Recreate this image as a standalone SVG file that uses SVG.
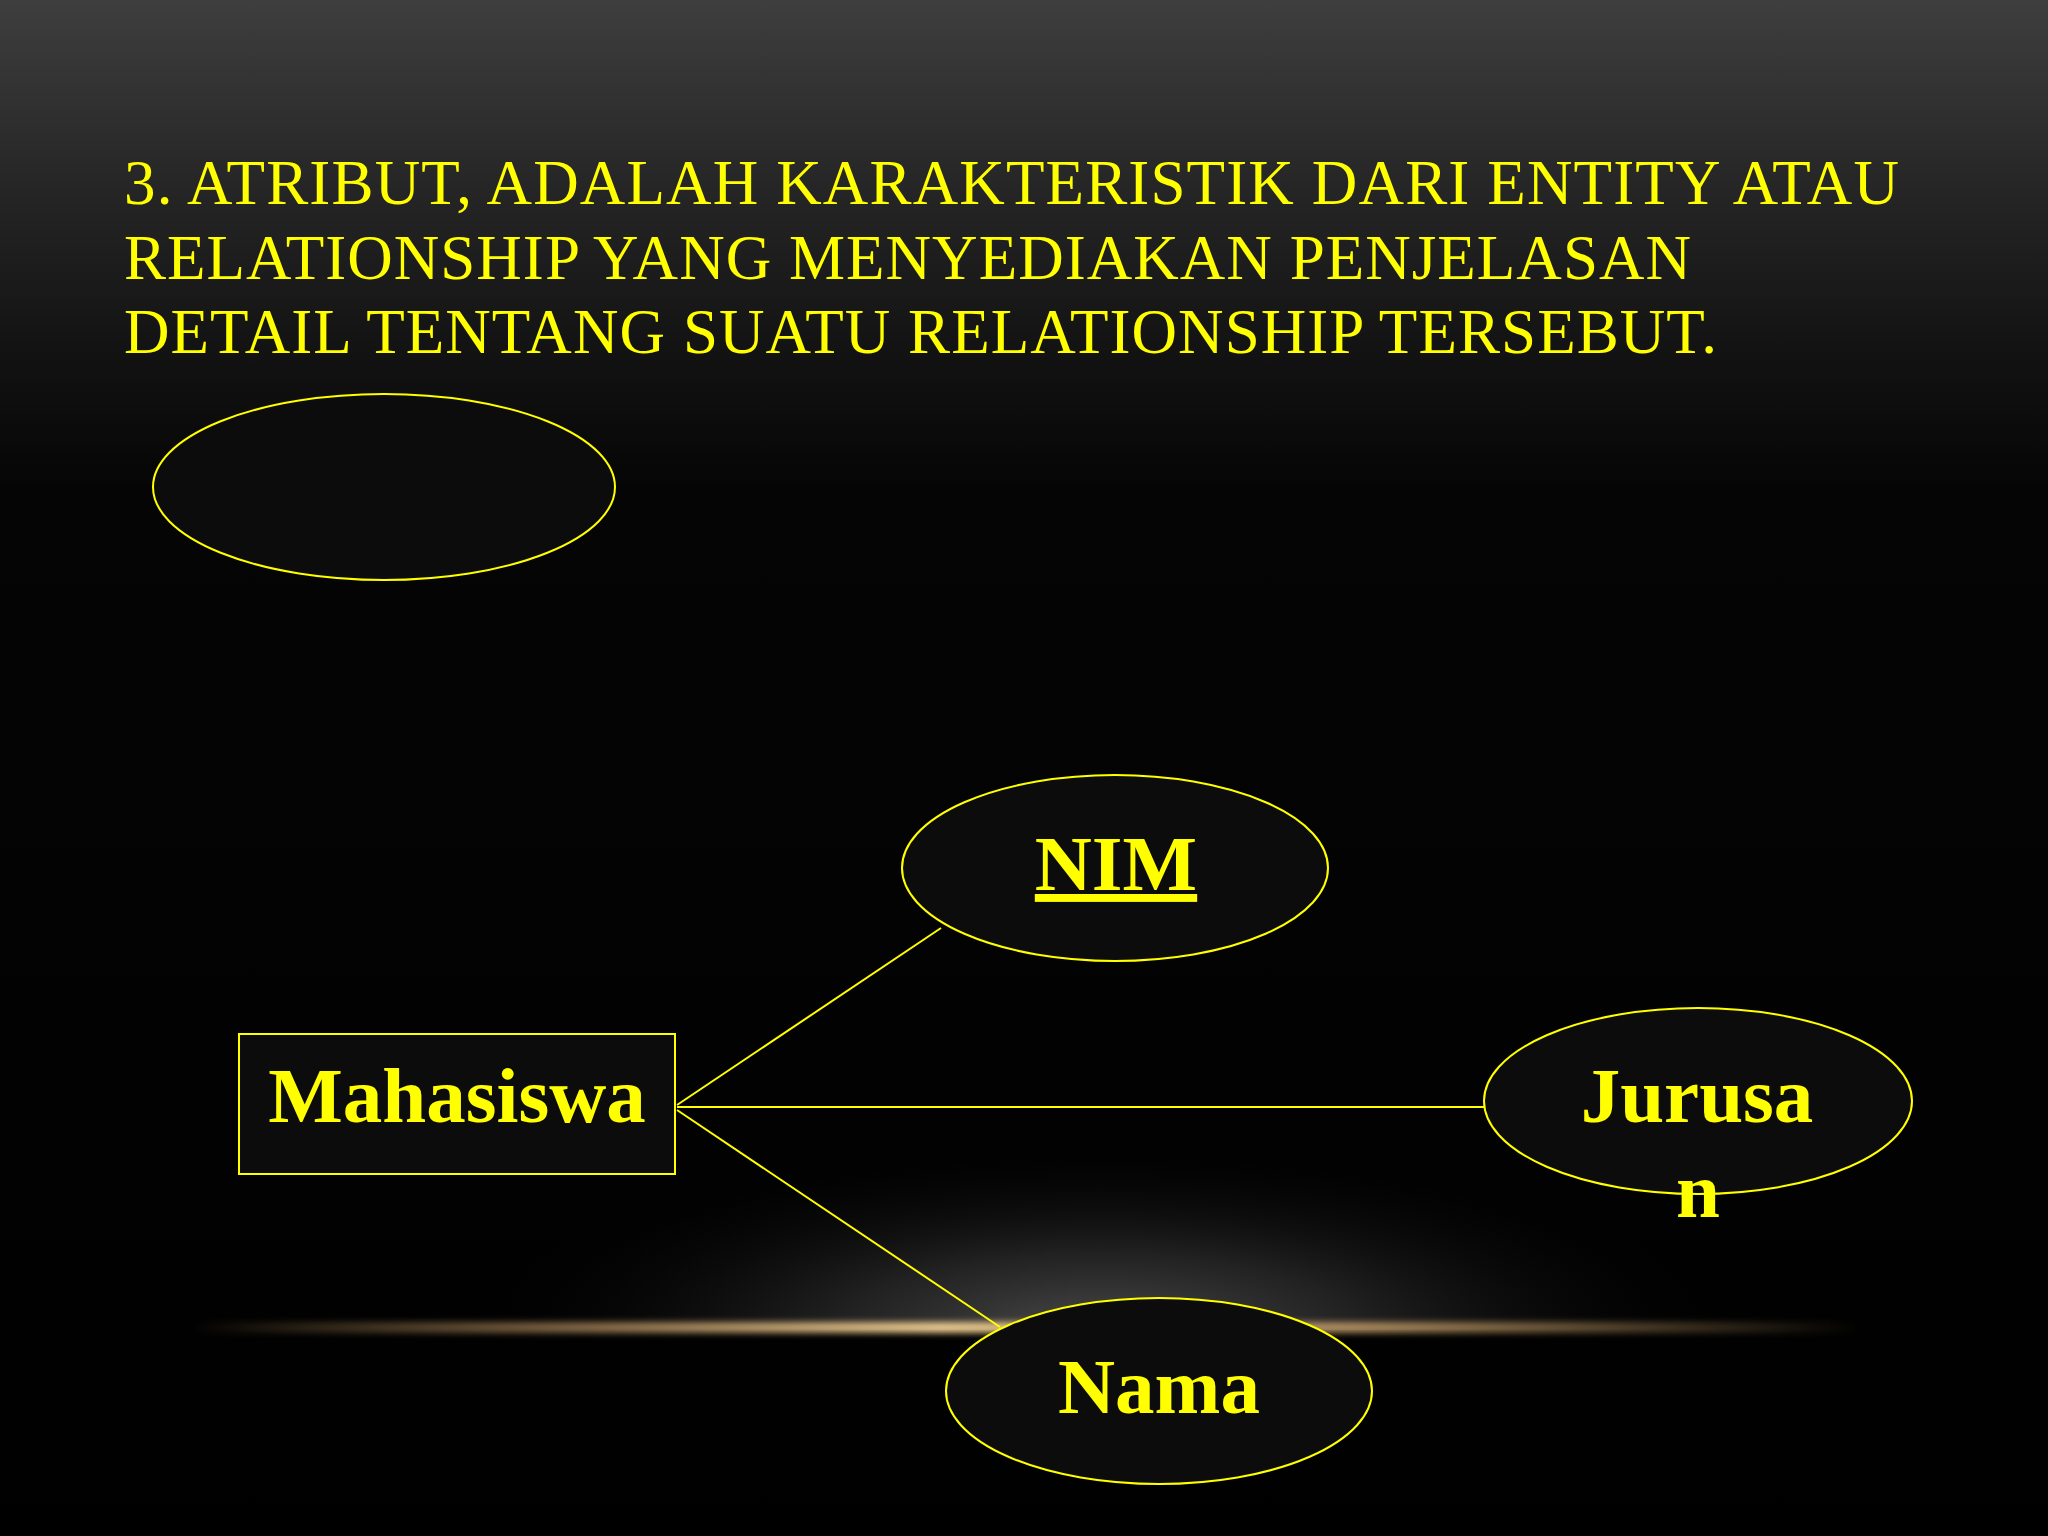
<svg xmlns="http://www.w3.org/2000/svg" width="2048" height="1536" viewBox="0 0 2048 1536">
<defs>
<linearGradient id="bg" x1="0" y1="0" x2="0" y2="1536" gradientUnits="userSpaceOnUse">
<stop offset="0" stop-color="#3e3e3e"/>
<stop offset="0.12" stop-color="#262626"/>
<stop offset="0.22" stop-color="#141414"/>
<stop offset="0.32" stop-color="#050505"/>
<stop offset="1" stop-color="#000000"/>
</linearGradient>
<radialGradient id="glow" cx="0.5" cy="0.5" r="0.5">
<stop offset="0" stop-color="#4a4a4a" stop-opacity="1"/>
<stop offset="0.4" stop-color="#2a2a2a" stop-opacity="0.8"/>
<stop offset="1" stop-color="#000000" stop-opacity="0"/>
</radialGradient>
<linearGradient id="gold" x1="0" y1="0" x2="1" y2="0">
<stop offset="0" stop-color="#c8a060" stop-opacity="0"/>
<stop offset="0.2" stop-color="#b89060" stop-opacity="0.6"/>
<stop offset="0.45" stop-color="#e6c68c" stop-opacity="1"/>
<stop offset="0.7" stop-color="#c8a06a" stop-opacity="0.8"/>
<stop offset="1" stop-color="#c8a060" stop-opacity="0"/>
</linearGradient>
<filter id="blur" x="-10%" y="-200%" width="120%" height="500%">
<feGaussianBlur stdDeviation="3"/>
</filter>
<clipPath id="above">
<rect x="0" y="1000" width="2048" height="330"/>
</clipPath>
</defs>
<style>
.title{font-family:"Liberation Serif","Times New Roman",serif;font-size:63px;fill:#ffff00}
.lbl{font-family:"Liberation Serif","Times New Roman",serif;font-size:79px;font-weight:bold;fill:#ffff00;text-anchor:middle}
.shape{fill:#0c0c0c;stroke:#ffff00;stroke-width:2}
.conn{stroke:#ffff00;stroke-width:2;fill:none}
</style>
<rect x="0" y="0" width="2048" height="1536" fill="url(#bg)"/>
<g id="background-glow">
<ellipse cx="1100" cy="1330" rx="640" ry="190" fill="url(#glow)" clip-path="url(#above)"/>
<rect x="190" y="1322" width="1670" height="11" fill="url(#gold)" filter="url(#blur)"/>
</g>
<g id="title">
<text class="title" x="124" y="204" textLength="1775" lengthAdjust="spacing">3. ATRIBUT, ADALAH KARAKTERISTIK DARI ENTITY ATAU</text>
<text class="title" x="124" y="279" textLength="1567" lengthAdjust="spacing">RELATIONSHIP YANG MENYEDIAKAN PENJELASAN</text>
<text class="title" x="124" y="353" textLength="1593" lengthAdjust="spacing">DETAIL TENTANG SUATU RELATIONSHIP TERSEBUT.</text>
</g>
<g id="connectors">
<line class="conn" x1="677" y1="1105" x2="941" y2="928"/>
<line class="conn" x1="677" y1="1107" x2="1484" y2="1107"/>
<line class="conn" x1="677" y1="1110" x2="1000" y2="1327"/>
</g>
<g id="empty-attribute">
<ellipse class="shape" cx="384" cy="487" rx="231" ry="93" stroke-width="3"/>
</g>
<g id="mahasiswa">
<rect class="shape" x="239" y="1034" width="436" height="140"/>
<text class="lbl" x="457" y="1122">Mahasiswa</text>
</g>
<g id="nim">
<ellipse class="shape" cx="1115" cy="868" rx="213" ry="93"/>
<text class="lbl" x="1116" y="890" text-decoration="underline">NIM</text>
</g>
<g id="jurusan">
<ellipse class="shape" cx="1698" cy="1101" rx="214" ry="93"/>
<text class="lbl" x="1697" y="1122">Jurusa</text>
<text class="lbl" x="1698" y="1217">n</text>
</g>
<g id="nama">
<ellipse class="shape" cx="1159" cy="1391" rx="213" ry="93"/>
<text class="lbl" x="1159" y="1413">Nama</text>
</g>
</svg>
